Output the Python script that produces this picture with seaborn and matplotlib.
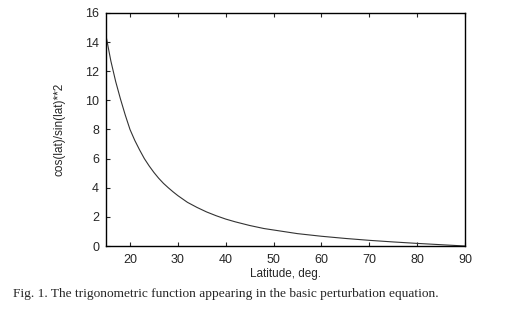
import matplotlib
matplotlib.use("Agg")
import matplotlib.pyplot as plt
import seaborn as sns

# values
latitude = [15, 16, 17, 18, 19, 20, 21, 22, 23, 24, 25, 26, 27, 28, 29, 30,
            32, 34, 36, 38, 40, 42, 45, 48, 50, 55, 60, 65, 70, 75, 80, 85, 90]
ratio = [14.4, 12.7, 11.3, 10.1, 9.0, 8.0, 7.25, 6.6, 6.0, 5.5, 5.05, 4.65,
         4.3, 4.0, 3.72, 3.46, 3.0, 2.65, 2.34, 2.08, 1.85, 1.66, 1.41, 1.2,
         1.1, 0.85, 0.67, 0.52, 0.39, 0.28, 0.18, 0.09, 0.0]
x_ticks = [20, 30, 40, 50, 60, 70, 80, 90]
y_ticks = [0, 2, 4, 6, 8, 10, 12, 14, 16]

sns.set_style("white")
plt.rcParams['font.family'] = ['Liberation Sans', 'DejaVu Sans']

fig = plt.figure(figsize=(5.2, 3.12), dpi=100)
ax = fig.add_axes([0.204, 0.2115, 0.69, 0.747])

sns.lineplot(x=latitude, y=ratio, ax=ax, color="#333333", linewidth=0.8)

ax.set_xlim(15, 90)
ax.set_ylim(0, 16)
ax.set_xticks(x_ticks)
ax.set_yticks(y_ticks)
ax.tick_params(direction="in", length=3, width=0.8, labelsize=9,
               top=True, bottom=True, left=True, right=False)
ax.tick_params(axis="x", pad=6)
ax.tick_params(axis="y", pad=5)
for s in ax.spines.values():
    s.set_color("black")
    s.set_linewidth(1.0)

ax.set_xlabel("Latitude, deg.", fontsize=8.5, labelpad=1)
ax.set_ylabel("cos(lat)/sin(lat)**2", fontsize=8.5, labelpad=14)

fig.text(13 / 520, 0.04, "Fig. 1. The trigonometric function appearing in the basic perturbation equation.",
         ha="left", va="bottom", fontsize=9.6, family="Liberation Serif")

fig.savefig("out.png", dpi=100)
